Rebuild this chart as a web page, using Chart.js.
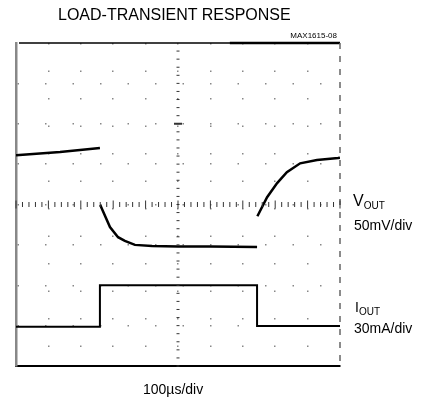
<!DOCTYPE html>
<html>
<head>
<meta charset="utf-8">
<script src="https://cdn.jsdelivr.net/npm/chart.js@4"></script>
<style>
  body { margin: 0; background: #fff; }
  .wrap { position: relative; width: 427px; height: 404px; font-family: "Liberation Sans", Arial, sans-serif; color: #000; }
  canvas { position: absolute; left: 0; top: 0; }
  .lbl { position: absolute; white-space: nowrap; line-height: 1; }
  .sub { font-size: 10px; position: relative; top: 3px; }
</style>
</head>
<body>
<div class="wrap">
  <canvas id="scope" width="427" height="404"></canvas>
  <div class="lbl" style="left:58px; top:7px; font-size:16px;">LOAD-TRANSIENT RESPONSE</div>
  <div class="lbl" style="right:90px; top:32px; font-size:8px;">MAX1615-08</div>
  <div class="lbl" style="left:353px; top:193px; font-size:16px;">V<span class="sub">OUT</span></div>
  <div class="lbl" style="left:354px; top:218px; font-size:14px;">50mV/div</div>
  <div class="lbl" style="left:355px; top:300px; font-size:14px;">I<span class="sub">OUT</span></div>
  <div class="lbl" style="left:354px; top:321px; font-size:14px;">30mA/div</div>
  <div class="lbl" style="left:143px; top:382px; font-size:14px;">100µs/div</div>
</div>
<script>
// tiempo en µs (10 div x 100µs), amplitud en divisiones (0..8)
const timeV = [0, 136, 259, null, 260, 290, 315, 336, 367, 420, 500, 600, 744, null, 745, 775, 806, 836, 877, 929, 994, 1000];
const vout  = [5.22, 5.30, 5.40, null, 3.99, 3.44, 3.19, 3.10, 3.00, 2.97, 2.96, 2.96, 2.95, null, 3.71, 4.18, 4.53, 4.80, 5.02, 5.10, 5.15, 5.16];
const timeI = [0, 259, 259, 744, 744, 1000];
const iout  = [0.97, 0.97, 2.0, 2.0, 0.99, 0.99];
const xDivs = [0, 100, 200, 300, 400, 500, 600, 700, 800, 900, 1000];

const toPoints = (xs, ys) => xs.map((t, i) => ({ x: t === null ? NaN : t, y: ys[i] }));

// Retícula del osciloscopio: bordes y cruz central con marcas
const graticule = {
    id: 'graticule',
    afterDatasetsDraw(chart) {
        const { ctx, chartArea: a, scales: { x, y } } = chart;
        ctx.save();
        // borde superior
        ctx.strokeStyle = '#000';
        ctx.lineWidth = 1.5;
        ctx.beginPath();
        ctx.moveTo(a.left + 3, a.top);
        ctx.lineTo(a.right, a.top);
        ctx.stroke();
        ctx.lineWidth = 2.5;
        ctx.beginPath();
        ctx.moveTo(x.getPixelForValue(660), a.top);
        ctx.lineTo(a.right, a.top);
        ctx.stroke();
        // borde derecho punteado
        ctx.strokeStyle = '#666';
        ctx.lineWidth = 1.5;
        ctx.setLineDash([6, 7]);
        ctx.beginPath();
        ctx.moveTo(a.right, a.top);
        ctx.lineTo(a.right, a.bottom);
        ctx.stroke();
        ctx.setLineDash([]);
        // cruz central
        const cx = x.getPixelForValue(500);
        const cy = y.getPixelForValue(4);
        ctx.strokeStyle = '#333';
        ctx.lineWidth = 1;
        for (let v = 0; v <= 8; v += 0.2) {
            const py = y.getPixelForValue(v);
            ctx.beginPath();
            ctx.moveTo(cx - 1.5, py);
            ctx.lineTo(cx + 1.5, py);
            ctx.stroke();
        }
        for (let t = 0; t <= 1000; t += 20) {
            const px = x.getPixelForValue(t);
            const h = (t % 100 === 0) ? 4 : 2.5;
            ctx.beginPath();
            ctx.moveTo(px, cy - h);
            ctx.lineTo(px, cy + h);
            ctx.stroke();
        }
        ctx.lineWidth = 2;
        ctx.beginPath();
        ctx.moveTo(cx - 4, y.getPixelForValue(6));
        ctx.lineTo(cx + 4, y.getPixelForValue(6));
        ctx.stroke();
        ctx.restore();
    }
};

new Chart(document.getElementById('scope'), {
    type: 'line',
    data: {
        datasets: [{
            label: 'VOUT',
            data: toPoints(timeV, vout),
            borderColor: '#000',
            borderWidth: 2.5,
            pointRadius: 0,
            tension: 0,
            spanGaps: false
        }, {
            label: 'IOUT',
            data: toPoints(timeI, iout),
            borderColor: '#000',
            borderWidth: 2,
            pointRadius: 0,
            tension: 0
        }]
    },
    options: {
        responsive: false,
        animation: false,
        layout: { padding: { left: 16, top: 43, right: 87, bottom: 38 } },
        plugins: { legend: { display: false }, tooltip: { enabled: false } },
        scales: {
            x: {
                type: 'linear',
                min: 0,
                max: 1000,
                afterBuildTicks: (s) => { s.ticks = xDivs.map(v => ({ value: v })); },
                ticks: { display: false },
                grid: {
                    drawTicks: false,
                    color: (c) => (c.tick && (c.tick.value === 0 || c.tick.value === 1000)) ? 'rgba(0,0,0,0)' : '#888',
                    lineWidth: 1.5
                },
                border: { display: true, color: '#000', width: 2, dash: [1.5, 26] }
            },
            y: {
                min: 0,
                max: 8,
                ticks: { display: false, stepSize: 1 },
                grid: {
                    drawTicks: false,
                    color: (c) => (c.tick && (c.tick.value === 0 || c.tick.value === 8)) ? 'rgba(0,0,0,0)' : '#888',
                    lineWidth: 1.5
                },
                border: { display: true, color: '#888', width: 2.5, dash: [1.5, 26] }
            }
        }
    },
    plugins: [graticule]
});
</script>
</body>
</html>
